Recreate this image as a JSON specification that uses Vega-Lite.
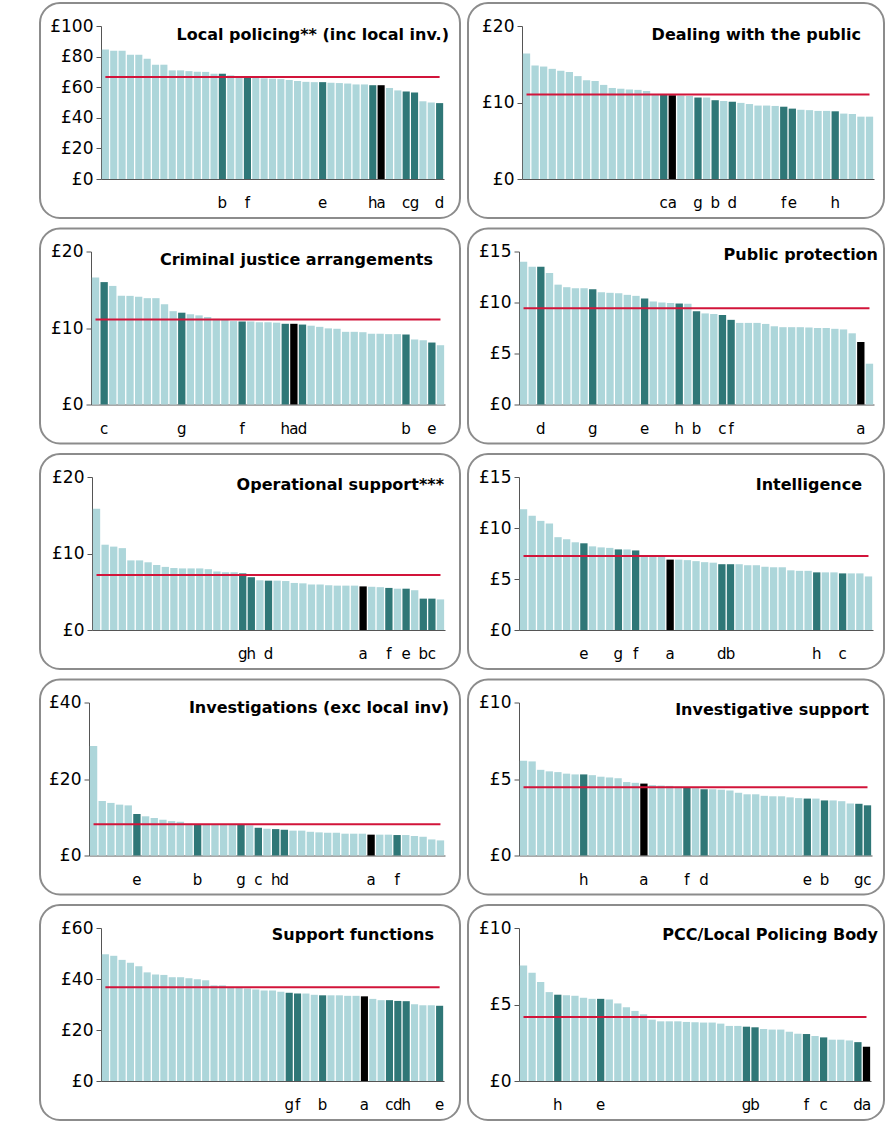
{
"$schema": "https://vega.github.io/schema/vega-lite/v6.json",
"padding": {"left": 39, "top": 2, "right": 0, "bottom": 0},
"background": "white",
"config": {
  "view": {"stroke": "#8c8c8c", "strokeWidth": 2, "cornerRadius": 20, "fill": "white"},
  "font": "DejaVu Sans",
  "axis": {"labelFont": "DejaVu Sans", "labelFontSize": 17, "labelColor": "#000", "domainColor": "#555", "tickColor": "#555", "grid": false, "tickSize": 5, "labelPadding": 3, "title": null},
  "title": {"font": "DejaVu Sans", "fontSize": 16, "fontWeight": "bold", "color": "#000", "anchor": "end", "frame": "group", "baseline": "middle"},
  "line": {"color": "#D2143A", "strokeWidth": 2},
  "text": {"fontSize": 15, "color": "#000", "dy": 24}
},
"datasets": {
"avg": [{"p":1,"a":66.6},{"p":2,"a":11.05},{"p":3,"a":11.1},{"p":4,"a":9.43},{"p":5,"a":7.2},{"p":6,"a":7.25},{"p":7,"a":8.2},{"p":8,"a":4.46},{"p":9,"a":36.8},{"p":10,"a":4.19}],
"d": [
{"p":1,"i":0,"v":84.7},{"p":1,"i":1,"v":83.8},{"p":1,"i":2,"v":83.8},{"p":1,"i":3,"v":81.2},{"p":1,"i":4,"v":81.2},{"p":1,"i":5,"v":78.6},{"p":1,"i":6,"v":74.7},{"p":1,"i":7,"v":74.7},{"p":1,"i":8,"v":71},{"p":1,"i":9,"v":71},{"p":1,"i":10,"v":70.5},{"p":1,"i":11,"v":70.1},{"p":1,"i":12,"v":70},{"p":1,"i":13,"v":68.8},{"p":1,"i":14,"v":68.8,"lab":"b"},{"p":1,"i":15,"v":67.7},{"p":1,"i":16,"v":67},{"p":1,"i":17,"v":66.3,"lab":"f"},{"p":1,"i":18,"v":66},{"p":1,"i":19,"v":65.8},{"p":1,"i":20,"v":65.6},{"p":1,"i":21,"v":65.3},{"p":1,"i":22,"v":64.7},{"p":1,"i":23,"v":64},{"p":1,"i":24,"v":63.5},{"p":1,"i":25,"v":63.3},{"p":1,"i":26,"v":63.3,"lab":"e"},{"p":1,"i":27,"v":62.9},{"p":1,"i":28,"v":62.7},{"p":1,"i":29,"v":62.4},{"p":1,"i":30,"v":61.8},{"p":1,"i":31,"v":61.8},{"p":1,"i":32,"v":61.3,"lab":"h"},{"p":1,"i":33,"v":61.3,"lab":"a"},{"p":1,"i":34,"v":59.4},{"p":1,"i":35,"v":57.9},{"p":1,"i":36,"v":57.2,"lab":"c"},{"p":1,"i":37,"v":56.5,"lab":"g"},{"p":1,"i":38,"v":50.8},{"p":1,"i":39,"v":50},{"p":1,"i":40,"v":49.6,"lab":"d"},
{"p":2,"i":0,"v":16.4},{"p":2,"i":1,"v":14.85},{"p":2,"i":2,"v":14.7},{"p":2,"i":3,"v":14.4},{"p":2,"i":4,"v":14.15},{"p":2,"i":5,"v":14.0},{"p":2,"i":6,"v":13.45},{"p":2,"i":7,"v":12.9},{"p":2,"i":8,"v":12.8},{"p":2,"i":9,"v":12.3},{"p":2,"i":10,"v":11.9},{"p":2,"i":11,"v":11.8},{"p":2,"i":12,"v":11.7},{"p":2,"i":13,"v":11.65},{"p":2,"i":14,"v":11.5},{"p":2,"i":15,"v":11.1},{"p":2,"i":16,"v":11.05,"lab":"c"},{"p":2,"i":17,"v":10.95,"lab":"a"},{"p":2,"i":18,"v":10.9},{"p":2,"i":19,"v":10.85},{"p":2,"i":20,"v":10.65,"lab":"g"},{"p":2,"i":21,"v":10.65},{"p":2,"i":22,"v":10.3,"lab":"b"},{"p":2,"i":23,"v":10.2},{"p":2,"i":24,"v":10.1,"lab":"d"},{"p":2,"i":25,"v":9.95},{"p":2,"i":26,"v":9.8},{"p":2,"i":27,"v":9.6},{"p":2,"i":28,"v":9.6},{"p":2,"i":29,"v":9.55},{"p":2,"i":30,"v":9.45,"lab":"f"},{"p":2,"i":31,"v":9.2,"lab":"e"},{"p":2,"i":32,"v":9.05},{"p":2,"i":33,"v":9.0},{"p":2,"i":34,"v":8.9},{"p":2,"i":35,"v":8.9},{"p":2,"i":36,"v":8.85,"lab":"h"},{"p":2,"i":37,"v":8.55},{"p":2,"i":38,"v":8.5},{"p":2,"i":39,"v":8.15},{"p":2,"i":40,"v":8.15},
{"p":3,"i":0,"v":16.6},{"p":3,"i":1,"v":16.0,"lab":"c"},{"p":3,"i":2,"v":15.5},{"p":3,"i":3,"v":14.2},{"p":3,"i":4,"v":14.2},{"p":3,"i":5,"v":14.1},{"p":3,"i":6,"v":13.9},{"p":3,"i":7,"v":13.9},{"p":3,"i":8,"v":13.1},{"p":3,"i":9,"v":12.2},{"p":3,"i":10,"v":12.0,"lab":"g"},{"p":3,"i":11,"v":11.8},{"p":3,"i":12,"v":11.65},{"p":3,"i":13,"v":11.45},{"p":3,"i":14,"v":11.2},{"p":3,"i":15,"v":11.05},{"p":3,"i":16,"v":10.9},{"p":3,"i":17,"v":10.85,"lab":"f"},{"p":3,"i":18,"v":10.85},{"p":3,"i":19,"v":10.75},{"p":3,"i":20,"v":10.75},{"p":3,"i":21,"v":10.7},{"p":3,"i":22,"v":10.55,"lab":"h"},{"p":3,"i":23,"v":10.55,"lab":"a"},{"p":3,"i":24,"v":10.45,"lab":"d"},{"p":3,"i":25,"v":10.3},{"p":3,"i":26,"v":10.15},{"p":3,"i":27,"v":9.95},{"p":3,"i":28,"v":9.9},{"p":3,"i":29,"v":9.5},{"p":3,"i":30,"v":9.5},{"p":3,"i":31,"v":9.45},{"p":3,"i":32,"v":9.25},{"p":3,"i":33,"v":9.25},{"p":3,"i":34,"v":9.2},{"p":3,"i":35,"v":9.2},{"p":3,"i":36,"v":9.15,"lab":"b"},{"p":3,"i":37,"v":8.5},{"p":3,"i":38,"v":8.4},{"p":3,"i":39,"v":8.1,"lab":"e"},{"p":3,"i":40,"v":7.75},
{"p":4,"i":0,"v":14.0},{"p":4,"i":1,"v":13.5},{"p":4,"i":2,"v":13.5,"lab":"d"},{"p":4,"i":3,"v":12.9},{"p":4,"i":4,"v":11.75},{"p":4,"i":5,"v":11.5},{"p":4,"i":6,"v":11.4},{"p":4,"i":7,"v":11.4},{"p":4,"i":8,"v":11.3,"lab":"g"},{"p":4,"i":9,"v":11.0},{"p":4,"i":10,"v":10.95},{"p":4,"i":11,"v":10.9},{"p":4,"i":12,"v":10.75},{"p":4,"i":13,"v":10.65},{"p":4,"i":14,"v":10.4,"lab":"e"},{"p":4,"i":15,"v":10.1},{"p":4,"i":16,"v":10.0},{"p":4,"i":17,"v":9.95},{"p":4,"i":18,"v":9.9,"lab":"h"},{"p":4,"i":19,"v":9.87},{"p":4,"i":20,"v":9.15,"lab":"b"},{"p":4,"i":21,"v":8.93},{"p":4,"i":22,"v":8.87},{"p":4,"i":23,"v":8.77,"lab":"c"},{"p":4,"i":24,"v":8.3,"lab":"f"},{"p":4,"i":25,"v":8.0},{"p":4,"i":26,"v":8.0},{"p":4,"i":27,"v":8.0},{"p":4,"i":28,"v":7.9},{"p":4,"i":29,"v":7.67},{"p":4,"i":30,"v":7.58},{"p":4,"i":31,"v":7.58},{"p":4,"i":32,"v":7.58},{"p":4,"i":33,"v":7.55},{"p":4,"i":34,"v":7.5},{"p":4,"i":35,"v":7.5},{"p":4,"i":36,"v":7.42},{"p":4,"i":37,"v":7.36},{"p":4,"i":38,"v":6.98},{"p":4,"i":39,"v":6.13,"lab":"a"},{"p":4,"i":40,"v":4.0},
{"p":5,"i":0,"v":15.85},{"p":5,"i":1,"v":11.15},{"p":5,"i":2,"v":10.9},{"p":5,"i":3,"v":10.7},{"p":5,"i":4,"v":9.1},{"p":5,"i":5,"v":9.1},{"p":5,"i":6,"v":8.85},{"p":5,"i":7,"v":8.5},{"p":5,"i":8,"v":8.25},{"p":5,"i":9,"v":8.1},{"p":5,"i":10,"v":8.05},{"p":5,"i":11,"v":8.05},{"p":5,"i":12,"v":8.05},{"p":5,"i":13,"v":7.95},{"p":5,"i":14,"v":7.65},{"p":5,"i":15,"v":7.55},{"p":5,"i":16,"v":7.55},{"p":5,"i":17,"v":7.4,"lab":"g"},{"p":5,"i":18,"v":6.9,"lab":"h"},{"p":5,"i":19,"v":6.5},{"p":5,"i":20,"v":6.45,"lab":"d"},{"p":5,"i":21,"v":6.45},{"p":5,"i":22,"v":6.4},{"p":5,"i":23,"v":6.15},{"p":5,"i":24,"v":6.1},{"p":5,"i":25,"v":5.95},{"p":5,"i":26,"v":5.95},{"p":5,"i":27,"v":5.85},{"p":5,"i":28,"v":5.8},{"p":5,"i":29,"v":5.8},{"p":5,"i":30,"v":5.8},{"p":5,"i":31,"v":5.7,"lab":"a"},{"p":5,"i":32,"v":5.65},{"p":5,"i":33,"v":5.6},{"p":5,"i":34,"v":5.5,"lab":"f"},{"p":5,"i":35,"v":5.4},{"p":5,"i":36,"v":5.4,"lab":"e"},{"p":5,"i":37,"v":5.2},{"p":5,"i":38,"v":4.1,"lab":"b"},{"p":5,"i":39,"v":4.1,"lab":"c"},{"p":5,"i":40,"v":4.0},
{"p":6,"i":0,"v":11.85},{"p":6,"i":1,"v":11.2},{"p":6,"i":2,"v":10.7},{"p":6,"i":3,"v":10.45},{"p":6,"i":4,"v":9.1},{"p":6,"i":5,"v":8.9},{"p":6,"i":6,"v":8.6},{"p":6,"i":7,"v":8.5,"lab":"e"},{"p":6,"i":8,"v":8.2},{"p":6,"i":9,"v":8.1},{"p":6,"i":10,"v":8.05},{"p":6,"i":11,"v":7.9,"lab":"g"},{"p":6,"i":12,"v":7.9},{"p":6,"i":13,"v":7.8,"lab":"f"},{"p":6,"i":14,"v":7.3},{"p":6,"i":15,"v":7.25},{"p":6,"i":16,"v":7.2},{"p":6,"i":17,"v":6.9,"lab":"a"},{"p":6,"i":18,"v":6.9},{"p":6,"i":19,"v":6.85},{"p":6,"i":20,"v":6.75},{"p":6,"i":21,"v":6.65},{"p":6,"i":22,"v":6.6},{"p":6,"i":23,"v":6.45,"lab":"d"},{"p":6,"i":24,"v":6.45,"lab":"b"},{"p":6,"i":25,"v":6.45},{"p":6,"i":26,"v":6.35},{"p":6,"i":27,"v":6.35},{"p":6,"i":28,"v":6.2},{"p":6,"i":29,"v":6.15},{"p":6,"i":30,"v":6.15},{"p":6,"i":31,"v":5.85},{"p":6,"i":32,"v":5.8},{"p":6,"i":33,"v":5.8},{"p":6,"i":34,"v":5.65,"lab":"h"},{"p":6,"i":35,"v":5.65},{"p":6,"i":36,"v":5.65},{"p":6,"i":37,"v":5.55,"lab":"c"},{"p":6,"i":38,"v":5.55},{"p":6,"i":39,"v":5.55},{"p":6,"i":40,"v":5.25},
{"p":7,"i":0,"v":28.6},{"p":7,"i":1,"v":14.25},{"p":7,"i":2,"v":13.75},{"p":7,"i":3,"v":13.3},{"p":7,"i":4,"v":13.1},{"p":7,"i":5,"v":10.85,"lab":"e"},{"p":7,"i":6,"v":10.25},{"p":7,"i":7,"v":9.8},{"p":7,"i":8,"v":9.35},{"p":7,"i":9,"v":9.0},{"p":7,"i":10,"v":8.85},{"p":7,"i":11,"v":8.3},{"p":7,"i":12,"v":8.2,"lab":"b"},{"p":7,"i":13,"v":8.15},{"p":7,"i":14,"v":8.1},{"p":7,"i":15,"v":8.05},{"p":7,"i":16,"v":8.0},{"p":7,"i":17,"v":7.95,"lab":"g"},{"p":7,"i":18,"v":7.9},{"p":7,"i":19,"v":7.25,"lab":"c"},{"p":7,"i":20,"v":7.0},{"p":7,"i":21,"v":6.9,"lab":"h"},{"p":7,"i":22,"v":6.75,"lab":"d"},{"p":7,"i":23,"v":6.5},{"p":7,"i":24,"v":6.5},{"p":7,"i":25,"v":6.2},{"p":7,"i":26,"v":6.05},{"p":7,"i":27,"v":5.95},{"p":7,"i":28,"v":5.95},{"p":7,"i":29,"v":5.7},{"p":7,"i":30,"v":5.7},{"p":7,"i":31,"v":5.7},{"p":7,"i":32,"v":5.45,"lab":"a"},{"p":7,"i":33,"v":5.45},{"p":7,"i":34,"v":5.45},{"p":7,"i":35,"v":5.35,"lab":"f"},{"p":7,"i":36,"v":5.35},{"p":7,"i":37,"v":5.1},{"p":7,"i":38,"v":4.9},{"p":7,"i":39,"v":4.2},{"p":7,"i":40,"v":3.95},
{"p":8,"i":0,"v":6.2},{"p":8,"i":1,"v":6.15},{"p":8,"i":2,"v":5.6},{"p":8,"i":3,"v":5.5},{"p":8,"i":4,"v":5.45},{"p":8,"i":5,"v":5.35},{"p":8,"i":6,"v":5.3},{"p":8,"i":7,"v":5.3,"lab":"h"},{"p":8,"i":8,"v":5.25},{"p":8,"i":9,"v":5.15},{"p":8,"i":10,"v":5.1},{"p":8,"i":11,"v":5.05},{"p":8,"i":12,"v":4.8},{"p":8,"i":13,"v":4.75},{"p":8,"i":14,"v":4.7,"lab":"a"},{"p":8,"i":15,"v":4.6},{"p":8,"i":16,"v":4.57},{"p":8,"i":17,"v":4.55},{"p":8,"i":18,"v":4.5},{"p":8,"i":19,"v":4.45,"lab":"f"},{"p":8,"i":20,"v":4.4},{"p":8,"i":21,"v":4.33,"lab":"d"},{"p":8,"i":22,"v":4.33},{"p":8,"i":23,"v":4.3},{"p":8,"i":24,"v":4.25},{"p":8,"i":25,"v":4.1},{"p":8,"i":26,"v":4.0},{"p":8,"i":27,"v":4.0},{"p":8,"i":28,"v":3.9},{"p":8,"i":29,"v":3.87},{"p":8,"i":30,"v":3.87},{"p":8,"i":31,"v":3.8},{"p":8,"i":32,"v":3.75},{"p":8,"i":33,"v":3.72,"lab":"e"},{"p":8,"i":34,"v":3.72},{"p":8,"i":35,"v":3.6,"lab":"b"},{"p":8,"i":36,"v":3.6},{"p":8,"i":37,"v":3.55},{"p":8,"i":38,"v":3.4},{"p":8,"i":39,"v":3.38,"lab":"g"},{"p":8,"i":40,"v":3.28,"lab":"c"},
{"p":9,"i":0,"v":49.7},{"p":9,"i":1,"v":49.1},{"p":9,"i":2,"v":47.5},{"p":9,"i":3,"v":46.4},{"p":9,"i":4,"v":45.0},{"p":9,"i":5,"v":42.6},{"p":9,"i":6,"v":41.8},{"p":9,"i":7,"v":41.6},{"p":9,"i":8,"v":40.7},{"p":9,"i":9,"v":40.7},{"p":9,"i":10,"v":40.3},{"p":9,"i":11,"v":39.9},{"p":9,"i":12,"v":39.5},{"p":9,"i":13,"v":37.5},{"p":9,"i":14,"v":37.5},{"p":9,"i":15,"v":36.8},{"p":9,"i":16,"v":36.6},{"p":9,"i":17,"v":36.3},{"p":9,"i":18,"v":35.9},{"p":9,"i":19,"v":35.5},{"p":9,"i":20,"v":35.5},{"p":9,"i":21,"v":35.0},{"p":9,"i":22,"v":34.6,"lab":"g"},{"p":9,"i":23,"v":34.3,"lab":"f"},{"p":9,"i":24,"v":34.3},{"p":9,"i":25,"v":33.8},{"p":9,"i":26,"v":33.6,"lab":"b"},{"p":9,"i":27,"v":33.6},{"p":9,"i":28,"v":33.6},{"p":9,"i":29,"v":33.4},{"p":9,"i":30,"v":33.4},{"p":9,"i":31,"v":33.2,"lab":"a"},{"p":9,"i":32,"v":32.2},{"p":9,"i":33,"v":31.7},{"p":9,"i":34,"v":31.7,"lab":"c"},{"p":9,"i":35,"v":31.4,"lab":"d"},{"p":9,"i":36,"v":31.3,"lab":"h"},{"p":9,"i":37,"v":30.1},{"p":9,"i":38,"v":29.7},{"p":9,"i":39,"v":29.7},{"p":9,"i":40,"v":29.5,"lab":"e"},
{"p":10,"i":0,"v":7.55},{"p":10,"i":1,"v":7.08},{"p":10,"i":2,"v":6.47},{"p":10,"i":3,"v":5.81},{"p":10,"i":4,"v":5.64,"lab":"h"},{"p":10,"i":5,"v":5.6},{"p":10,"i":6,"v":5.57},{"p":10,"i":7,"v":5.44},{"p":10,"i":8,"v":5.37},{"p":10,"i":9,"v":5.37,"lab":"e"},{"p":10,"i":10,"v":5.33},{"p":10,"i":11,"v":5.07},{"p":10,"i":12,"v":4.82},{"p":10,"i":13,"v":4.58},{"p":10,"i":14,"v":4.36},{"p":10,"i":15,"v":4.01},{"p":10,"i":16,"v":3.9},{"p":10,"i":17,"v":3.9},{"p":10,"i":18,"v":3.9},{"p":10,"i":19,"v":3.86},{"p":10,"i":20,"v":3.84},{"p":10,"i":21,"v":3.82},{"p":10,"i":22,"v":3.82},{"p":10,"i":23,"v":3.75},{"p":10,"i":24,"v":3.6},{"p":10,"i":25,"v":3.6},{"p":10,"i":26,"v":3.55,"lab":"g"},{"p":10,"i":27,"v":3.51,"lab":"b"},{"p":10,"i":28,"v":3.4},{"p":10,"i":29,"v":3.36},{"p":10,"i":30,"v":3.36},{"p":10,"i":31,"v":3.22},{"p":10,"i":32,"v":3.09},{"p":10,"i":33,"v":3.07,"lab":"f"},{"p":10,"i":34,"v":2.94},{"p":10,"i":35,"v":2.85,"lab":"c"},{"p":10,"i":36,"v":2.7},{"p":10,"i":37,"v":2.7},{"p":10,"i":38,"v":2.65},{"p":10,"i":39,"v":2.54,"lab":"d"},{"p":10,"i":40,"v":2.24,"lab":"a"}
]},
"vconcat": [
{"hconcat": [
{"width": 420, "height": 215, "data": {"name": "d"}, "transform": [{"filter": "datum.p == 1"}],
 "title": {"text": "Local policing** (inc local inv.)", "dx": -11, "offset": -40},
 "layer": [
  {"mark": "bar", "encoding": {
    "x": {"field": "i", "type": "ordinal", "scale": {"range": [61, 404], "paddingInner": 0.15, "paddingOuter": 0.1}, "axis": {"orient": "bottom", "offset": -39, "labels": false, "ticks": false}},
    "y": {"field": "v", "type": "quantitative", "scale": {"domain": [0, 100], "range": [176, 23], "nice": false}, "axis": {"values": [0, 20, 40, 60, 80, 100], "offset": -61, "labelExpr": "'£' + datum.value"}},
    "color": {"condition": [{"test": "datum.lab == 'a'", "value": "#000000"}, {"test": "isValid(datum.lab)", "value": "#2F7777"}], "value": "#ADD6DA"}}},
  {"mark": "line", "transform": [{"lookup": "p", "from": {"data": {"name": "avg"}, "key": "p", "fields": ["a"]}}], "encoding": {"x": {"field": "i", "type": "ordinal"}, "y": {"field": "a", "type": "quantitative"}}},
  {"mark": "text", "transform": [{"filter": "isValid(datum.lab)"}], "encoding": {"x": {"field": "i", "type": "ordinal"}, "y": {"datum": 0}, "text": {"field": "lab"}}}
 ]},
{"width": 416, "height": 215, "data": {"name": "d"}, "transform": [{"filter": "datum.p == 2"}],
 "title": {"text": "Dealing with the public", "dx": -23, "offset": -40},
 "layer": [
  {"mark": "bar", "encoding": {
    "x": {"field": "i", "type": "ordinal", "scale": {"range": [54, 406], "paddingInner": 0.15, "paddingOuter": 0.1}, "axis": {"orient": "bottom", "offset": -39, "labels": false, "ticks": false}},
    "y": {"field": "v", "type": "quantitative", "scale": {"domain": [0, 20], "range": [176, 23], "nice": false}, "axis": {"values": [0, 10, 20], "offset": -54, "labelExpr": "'£' + datum.value"}},
    "color": {"condition": [{"test": "datum.lab == 'a'", "value": "#000000"}, {"test": "isValid(datum.lab)", "value": "#2F7777"}], "value": "#ADD6DA"}}},
  {"mark": "line", "transform": [{"lookup": "p", "from": {"data": {"name": "avg"}, "key": "p", "fields": ["a"]}}], "encoding": {"x": {"field": "i", "type": "ordinal"}, "y": {"field": "a", "type": "quantitative"}}},
  {"mark": "text", "transform": [{"filter": "isValid(datum.lab)"}], "encoding": {"x": {"field": "i", "type": "ordinal"}, "y": {"datum": 0}, "text": {"field": "lab"}}}
 ]}
], "spacing": 6},
{"hconcat": [
{"width": 420, "height": 215, "data": {"name": "d"}, "transform": [{"filter": "datum.p == 3"}],
 "title": {"text": "Criminal justice arrangements", "dx": -27, "offset": -39},
 "layer": [
  {"mark": "bar", "encoding": {
    "x": {"field": "i", "type": "ordinal", "scale": {"range": [51, 405], "paddingInner": 0.15, "paddingOuter": 0.1}, "axis": {"orient": "bottom", "offset": -39, "labels": false, "ticks": false}},
    "y": {"field": "v", "type": "quantitative", "scale": {"domain": [0, 20], "range": [176, 23], "nice": false}, "axis": {"values": [0, 10, 20], "offset": -51, "labelExpr": "'£' + datum.value"}},
    "color": {"condition": [{"test": "datum.lab == 'a'", "value": "#000000"}, {"test": "isValid(datum.lab)", "value": "#2F7777"}], "value": "#ADD6DA"}}},
  {"mark": "line", "transform": [{"lookup": "p", "from": {"data": {"name": "avg"}, "key": "p", "fields": ["a"]}}], "encoding": {"x": {"field": "i", "type": "ordinal"}, "y": {"field": "a", "type": "quantitative"}}},
  {"mark": "text", "transform": [{"filter": "isValid(datum.lab)"}], "encoding": {"x": {"field": "i", "type": "ordinal"}, "y": {"datum": 0}, "text": {"field": "lab"}}}
 ]},
{"width": 416, "height": 215, "data": {"name": "d"}, "transform": [{"filter": "datum.p == 4"}],
 "title": {"text": "Public protection", "dx": -6, "offset": -34},
 "layer": [
  {"mark": "bar", "encoding": {
    "x": {"field": "i", "type": "ordinal", "scale": {"range": [51, 406], "paddingInner": 0.15, "paddingOuter": 0.1}, "axis": {"orient": "bottom", "offset": -39, "labels": false, "ticks": false}},
    "y": {"field": "v", "type": "quantitative", "scale": {"domain": [0, 15], "range": [176, 23], "nice": false}, "axis": {"values": [0, 5, 10, 15], "offset": -51, "labelExpr": "'£' + datum.value"}},
    "color": {"condition": [{"test": "datum.lab == 'a'", "value": "#000000"}, {"test": "isValid(datum.lab)", "value": "#2F7777"}], "value": "#ADD6DA"}}},
  {"mark": "line", "transform": [{"lookup": "p", "from": {"data": {"name": "avg"}, "key": "p", "fields": ["a"]}}], "encoding": {"x": {"field": "i", "type": "ordinal"}, "y": {"field": "a", "type": "quantitative"}}},
  {"mark": "text", "transform": [{"filter": "isValid(datum.lab)"}], "encoding": {"x": {"field": "i", "type": "ordinal"}, "y": {"datum": 0}, "text": {"field": "lab"}}}
 ]}
], "spacing": 6},
{"hconcat": [
{"width": 420, "height": 215, "data": {"name": "d"}, "transform": [{"filter": "datum.p == 5"}],
 "title": {"text": "Operational support***", "dx": -16, "offset": -39},
 "layer": [
  {"mark": "bar", "encoding": {
    "x": {"field": "i", "type": "ordinal", "scale": {"range": [52, 405], "paddingInner": 0.15, "paddingOuter": 0.1}, "axis": {"orient": "bottom", "offset": -39, "labels": false, "ticks": false}},
    "y": {"field": "v", "type": "quantitative", "scale": {"domain": [0, 20], "range": [176, 23], "nice": false}, "axis": {"values": [0, 10, 20], "offset": -52, "labelExpr": "'£' + datum.value"}},
    "color": {"condition": [{"test": "datum.lab == 'a'", "value": "#000000"}, {"test": "isValid(datum.lab)", "value": "#2F7777"}], "value": "#ADD6DA"}}},
  {"mark": "line", "transform": [{"lookup": "p", "from": {"data": {"name": "avg"}, "key": "p", "fields": ["a"]}}], "encoding": {"x": {"field": "i", "type": "ordinal"}, "y": {"field": "a", "type": "quantitative"}}},
  {"mark": "text", "transform": [{"filter": "isValid(datum.lab)"}], "encoding": {"x": {"field": "i", "type": "ordinal"}, "y": {"datum": 0}, "text": {"field": "lab"}}}
 ]},
{"width": 416, "height": 215, "data": {"name": "d"}, "transform": [{"filter": "datum.p == 6"}],
 "title": {"text": "Intelligence", "dx": -22, "offset": -39},
 "layer": [
  {"mark": "bar", "encoding": {
    "x": {"field": "i", "type": "ordinal", "scale": {"range": [51, 405], "paddingInner": 0.15, "paddingOuter": 0.1}, "axis": {"orient": "bottom", "offset": -39, "labels": false, "ticks": false}},
    "y": {"field": "v", "type": "quantitative", "scale": {"domain": [0, 15], "range": [176, 23], "nice": false}, "axis": {"values": [0, 5, 10, 15], "offset": -51, "labelExpr": "'£' + datum.value"}},
    "color": {"condition": [{"test": "datum.lab == 'a'", "value": "#000000"}, {"test": "isValid(datum.lab)", "value": "#2F7777"}], "value": "#ADD6DA"}}},
  {"mark": "line", "transform": [{"lookup": "p", "from": {"data": {"name": "avg"}, "key": "p", "fields": ["a"]}}], "encoding": {"x": {"field": "i", "type": "ordinal"}, "y": {"field": "a", "type": "quantitative"}}},
  {"mark": "text", "transform": [{"filter": "isValid(datum.lab)"}], "encoding": {"x": {"field": "i", "type": "ordinal"}, "y": {"datum": 0}, "text": {"field": "lab"}}}
 ]}
], "spacing": 6},
{"hconcat": [
{"width": 420, "height": 215, "data": {"name": "d"}, "transform": [{"filter": "datum.p == 7"}],
 "title": {"text": "Investigations (exc local inv)", "dx": -11, "offset": -36},
 "layer": [
  {"mark": "bar", "encoding": {
    "x": {"field": "i", "type": "ordinal", "scale": {"range": [49, 405], "paddingInner": 0.15, "paddingOuter": 0.1}, "axis": {"orient": "bottom", "offset": -39, "labels": false, "ticks": false}},
    "y": {"field": "v", "type": "quantitative", "scale": {"domain": [0, 40], "range": [176, 23], "nice": false}, "axis": {"values": [0, 20, 40], "offset": -49, "labelExpr": "'£' + datum.value"}},
    "color": {"condition": [{"test": "datum.lab == 'a'", "value": "#000000"}, {"test": "isValid(datum.lab)", "value": "#2F7777"}], "value": "#ADD6DA"}}},
  {"mark": "line", "transform": [{"lookup": "p", "from": {"data": {"name": "avg"}, "key": "p", "fields": ["a"]}}], "encoding": {"x": {"field": "i", "type": "ordinal"}, "y": {"field": "a", "type": "quantitative"}}},
  {"mark": "text", "transform": [{"filter": "isValid(datum.lab)"}], "encoding": {"x": {"field": "i", "type": "ordinal"}, "y": {"datum": 0}, "text": {"field": "lab"}}}
 ]},
{"width": 416, "height": 215, "data": {"name": "d"}, "transform": [{"filter": "datum.p == 8"}],
 "title": {"text": "Investigative support", "dx": -15, "offset": -38},
 "layer": [
  {"mark": "bar", "encoding": {
    "x": {"field": "i", "type": "ordinal", "scale": {"range": [51, 404], "paddingInner": 0.15, "paddingOuter": 0.1}, "axis": {"orient": "bottom", "offset": -39, "labels": false, "ticks": false}},
    "y": {"field": "v", "type": "quantitative", "scale": {"domain": [0, 10], "range": [176, 23], "nice": false}, "axis": {"values": [0, 5, 10], "offset": -51, "labelExpr": "'£' + datum.value"}},
    "color": {"condition": [{"test": "datum.lab == 'a'", "value": "#000000"}, {"test": "isValid(datum.lab)", "value": "#2F7777"}], "value": "#ADD6DA"}}},
  {"mark": "line", "transform": [{"lookup": "p", "from": {"data": {"name": "avg"}, "key": "p", "fields": ["a"]}}], "encoding": {"x": {"field": "i", "type": "ordinal"}, "y": {"field": "a", "type": "quantitative"}}},
  {"mark": "text", "transform": [{"filter": "isValid(datum.lab)"}], "encoding": {"x": {"field": "i", "type": "ordinal"}, "y": {"datum": 0}, "text": {"field": "lab"}}}
 ]}
], "spacing": 6},
{"hconcat": [
{"width": 420, "height": 215, "data": {"name": "d"}, "transform": [{"filter": "datum.p == 9"}],
 "title": {"text": "Support functions", "dx": -26, "offset": -38},
 "layer": [
  {"mark": "bar", "encoding": {
    "x": {"field": "i", "type": "ordinal", "scale": {"range": [61, 404], "paddingInner": 0.15, "paddingOuter": 0.1}, "axis": {"orient": "bottom", "offset": -39, "labels": false, "ticks": false}},
    "y": {"field": "v", "type": "quantitative", "scale": {"domain": [0, 60], "range": [176, 23], "nice": false}, "axis": {"values": [0, 20, 40, 60], "offset": -61, "labelExpr": "'£' + datum.value"}},
    "color": {"condition": [{"test": "datum.lab == 'a'", "value": "#000000"}, {"test": "isValid(datum.lab)", "value": "#2F7777"}], "value": "#ADD6DA"}}},
  {"mark": "line", "transform": [{"lookup": "p", "from": {"data": {"name": "avg"}, "key": "p", "fields": ["a"]}}], "encoding": {"x": {"field": "i", "type": "ordinal"}, "y": {"field": "a", "type": "quantitative"}}},
  {"mark": "text", "transform": [{"filter": "isValid(datum.lab)"}], "encoding": {"x": {"field": "i", "type": "ordinal"}, "y": {"datum": 0}, "text": {"field": "lab"}}}
 ]},
{"width": 416, "height": 215, "data": {"name": "d"}, "transform": [{"filter": "datum.p == 10"}],
 "title": {"text": "PCC/Local Policing Body", "dx": -6, "offset": -38},
 "layer": [
  {"mark": "bar", "encoding": {
    "x": {"field": "i", "type": "ordinal", "scale": {"range": [51, 403], "paddingInner": 0.15, "paddingOuter": 0.1}, "axis": {"orient": "bottom", "offset": -39, "labels": false, "ticks": false}},
    "y": {"field": "v", "type": "quantitative", "scale": {"domain": [0, 10], "range": [176, 23], "nice": false}, "axis": {"values": [0, 5, 10], "offset": -51, "labelExpr": "'£' + datum.value"}},
    "color": {"condition": [{"test": "datum.lab == 'a'", "value": "#000000"}, {"test": "isValid(datum.lab)", "value": "#2F7777"}], "value": "#ADD6DA"}}},
  {"mark": "line", "transform": [{"lookup": "p", "from": {"data": {"name": "avg"}, "key": "p", "fields": ["a"]}}], "encoding": {"x": {"field": "i", "type": "ordinal"}, "y": {"field": "a", "type": "quantitative"}}},
  {"mark": "text", "transform": [{"filter": "isValid(datum.lab)"}], "encoding": {"x": {"field": "i", "type": "ordinal"}, "y": {"datum": 0}, "text": {"field": "lab"}}}
 ]}
], "spacing": 6}
],
"spacing": 8.5
}
